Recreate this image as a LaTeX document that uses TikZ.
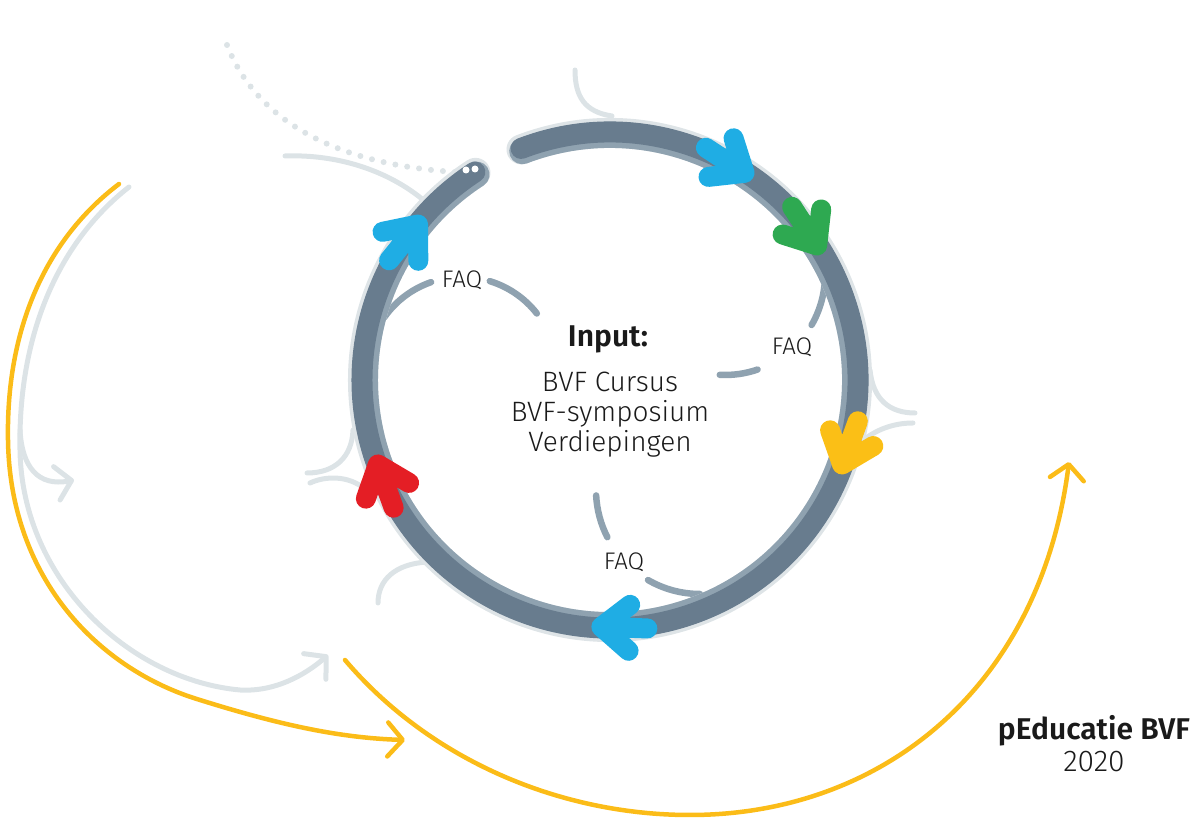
\documentclass[tikz,border=0pt]{standalone}
\usepackage{fontspec}
\setmainfont{Fira Sans}[UprightFont={* Light}]
\usepackage{tikz}
\usetikzlibrary{arrows.meta,calc,positioning}

\definecolor{ringdark}{HTML}{687C8E}
\definecolor{ringedge}{HTML}{8FA2B0}
\definecolor{ringhalo}{HTML}{DEE4E7}
\definecolor{palegray}{HTML}{DCE3E6}
\definecolor{arrblue}{HTML}{1FADE4}
\definecolor{arrgreen}{HTML}{2EA951}
\definecolor{arryellow}{HTML}{FBBF16}
\definecolor{arrred}{HTML}{E41E25}
\definecolor{curveyellow}{HTML}{FBBC18}
\definecolor{inktext}{HTML}{1A1A1A}

% chevron arrow sitting on the cycle ring, pointing clockwise
\newcommand{\cyclearrow}[2]{%
  \begin{scope}[shift={($(ctr)+(#1:247)$)}, rotate=#1-90]
    \draw[ringarrow, draw=#2] (-46,0) -- (0,0) (-28,23) -- (0,0) -- (-28,-23);
  \end{scope}}

\begin{document}
\begin{tikzpicture}[
  x=1pt, y=1pt,
  line cap=round, line join=round,
  ringarrow/.style={line width=20pt},
  paleline/.style={draw=palegray, line width=5pt},
  faqline/.style={draw=ringedge, line width=6.5pt},
  yellowline/.style={draw=curveyellow, line width=4.5pt},
  barb/.style={-{Straight Barb[length=15pt,width=34pt,round]}},
  every node/.style={inner sep=0pt, text=inktext},
  headtext/.style={font=\bfseries\fontsize{30}{32}\selectfont},
  listtext/.style={font=\fontsize{28}{30}\selectfont},
  faqtext/.style={font=\fontsize{24}{26}\selectfont}
]
\useasboundingbox (0,0) rectangle (1200,832);
\coordinate (ctr) at (610,452);

% outer feedback curves
\draw[paleline, barb] (129,645) .. controls (55,587) and (18,492) .. (20,382)
  .. controls (22,252) and (130,152) .. (240,142)
  .. controls (275,140) and (305,157) .. (328,177);
\draw[paleline, barb] (20,402) .. controls (22,365) and (38,345) .. (74,352);
\draw[yellowline, barb] (119,648) .. controls (45,592) and (6,502) .. (8,392)
  .. controls (10,252) and (100,162) .. (200,132)
  .. controls (280,107) and (340,94) .. (405,92);
\draw[yellowline, barb] (345,172) .. controls (430,72) and (560,17) .. (690,17)
  .. controls (880,17) and (1040,142) .. (1069,370);

% pale branches on the ring
\draw[palegray, line width=6pt, dash pattern=on 0pt off 12pt]
  (227,787) .. controls (255,715) and (330,668) .. (455,660);
\draw[paleline] (575,762) .. controls (575,735) and (585,720) .. (612,716);
\draw[paleline] (285,676) .. controls (340,678) and (392,660) .. (428,628);
\draw[paleline] (870,462) .. controls (873,432) and (890,419) .. (915,419);
\draw[paleline] (913,409) .. controls (893,409) and (875,402) .. (861,390);
\draw[paleline] (353,402) .. controls (352,375) and (335,359) .. (307,359);
\draw[paleline] (310,349) .. controls (325,356) and (348,357) .. (365,343);
\draw[paleline] (427,270) .. controls (395,268) and (378,252) .. (378,229);

% FAQ loops
\coordinate (faqc1) at (462,460);
\coordinate (faqc2) at (725,557);
\coordinate (faqc3) at (700,342);
\draw[faqline] ($(faqc1)+(145:95)$) arc[start angle=145, end angle=109, radius=95pt];
\draw[faqline] ($(faqc1)+(73:95)$) arc[start angle=73, end angle=38, radius=95pt];
\draw[faqline] ($(faqc2)+(-2:100)$) arc[start angle=-2, end angle=-30, radius=100pt];
\draw[faqline] ($(faqc2)+(-71:100)$) arc[start angle=-71, end angle=-93, radius=100pt];
\draw[faqline] ($(faqc3)+(183:104)$) arc[start angle=183, end angle=207, radius=104pt];
\draw[faqline] ($(faqc3)+(240:104)$) arc[start angle=240, end angle=270, radius=104pt];

% the cycle ring
\draw[ringhalo, line width=30pt] ($(ctr)+(111:247)$) arc[start angle=111, end angle=-237, radius=247pt];
\draw[ringedge, line width=26pt] ($(ctr)+(111:245)$) arc[start angle=111, end angle=-237, radius=245pt];
\draw[ringdark, line width=21pt] ($(ctr)+(111:248)$) arc[start angle=111, end angle=-237, radius=248pt];
\fill[white] (466,662) circle (3.5pt) (475,663) circle (3.5pt);

\cyclearrow{57}{arrblue}
\cyclearrow{33}{arrgreen}
\cyclearrow{-20}{arryellow}
\cyclearrow{-92}{arrblue}
\cyclearrow{200}{arrred}
\cyclearrow{141}{arrblue}

% texts
\node[faqtext, anchor=base] (faqleft)   at (462,544) {FAQ};
\node[faqtext, anchor=base] (faqright)  at (792,477) {FAQ};
\node[faqtext, anchor=base] (faqbottom) at (624,262) {FAQ};

\node[headtext, anchor=base] (inputhead) at (608,485) {Input:};
\node[listtext, anchor=base] (cursus)    at (610,440) {BVF Cursus};
\node[listtext, anchor=base] (symposium) at (610,410) {BVF-symposium};
\node[listtext, anchor=base] (verdiep)   at (610,380) {Verdiepingen};

\node[headtext, anchor=base] (brand) at (1094,92) {pEducatie BVF};
\node[listtext, font=\fontsize{30}{32}\selectfont, anchor=base] (year) at (1094,60) {2020};
\end{tikzpicture}
\end{document}
